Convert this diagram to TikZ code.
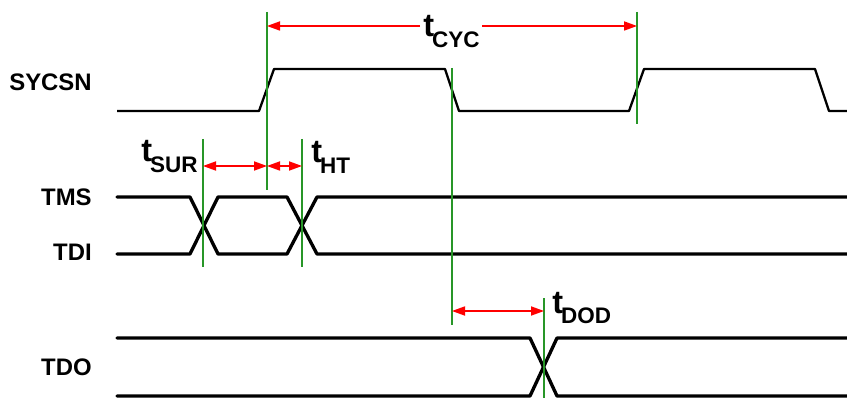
\documentclass[tikz,border=0pt]{standalone}
\usepackage{fontspec}
\setmainfont{Liberation Sans}
\usetikzlibrary{arrows.meta}

\definecolor{markgreen}{RGB}{40,150,40}
\newcommand{\tsub}[1]{{\fontsize{18.5}{19}\selectfont t}\kern-1.2pt\raisebox{-6.2pt}{\fontsize{12.8}{13}\selectfont #1}}

\begin{document}
\begin{tikzpicture}[x=0.02cm, y=-0.02cm,
        signal/.style={line width=1.3pt, line join=round},
        bus/.style={line width=1.9pt, line cap=round, line join=round},
        marker/.style={markgreen, line width=0.75pt},
        dim/.style={red, line width=0.75pt, -{Triangle[length=7.4pt, width=5.2pt]}},
        dimboth/.style={dim, {Triangle[length=7.4pt, width=5.2pt]}-{Triangle[length=7.4pt, width=5.2pt]}},
        lbl/.style={font=\fontsize{13.6}{14}\selectfont\bfseries, anchor=east, inner sep=0pt},
        tlbl/.style={font=\bfseries, anchor=base west, inner sep=0pt}]
        \useasboundingbox (0,0) rectangle (847,398);
        %\draw[gray, dashed] (0,0) grid[step=50] (847,398);

        \node[lbl] (sycsn) at (92,82) {SYCSN};
        \node[lbl] (tms) at (92,197) {TMS};
        \node[lbl] (tdi) at (92,252) {TDI};
        \node[lbl] (tdo) at (92,367) {TDO};

        % waveforms
        \draw[signal] (117,111) -- (259,111) -- (274,69) -- (445,69) -- (459,111) -- (629,111) -- (644,69) -- (815,69) -- (829,111) -- (847,111);

        \draw[bus] (117,197) -- (190,197) -- (218,254) -- (287,254) -- (317,197) -- (847,197);
        \draw[bus] (117,254) -- (190,254) -- (218,197) -- (287,197) -- (317,254) -- (847,254);

        \draw[bus] (117,338) -- (530,338) -- (557,396) -- (847,396);
        \draw[bus] (117,396) -- (530,396) -- (557,338) -- (847,338);

        % markers
        \coordinate (rise1) at (267,12);
        \coordinate (fall1) at (452,68);
        \coordinate (rise2) at (637,12);
        \coordinate (setup) at (203,139);
        \coordinate (hold) at (302,139);
        \coordinate (dout) at (544,298);
        \draw[marker] (rise1) -- ++(0,178);
        \draw[marker] (fall1) -- ++(0,257);
        \draw[marker] (rise2) -- ++(0,112);
        \draw[marker] (setup) -- ++(0,128);
        \draw[marker] (hold) -- ++(0,128);
        \draw[marker] (dout) -- ++(0,100);

        % timing labels
        \node[tlbl] (tcyc) at (423,37) {\tsub{CYC}};
        \node[tlbl] (tsur) at (141,162) {\tsub{SUR}};
        \node[tlbl] (tht) at (311,163) {\tsub{HT}};
        \node[tlbl] (tdod) at (552,313) {\tsub{DOD}};

        \coordinate (cycL) at (420,26);
        \coordinate (cycR) at (482,26);
        \draw[dim] (cycL) -- (rise1 |- cycL);
        \draw[dim] (cycR) -- (rise2 |- cycR);

        \coordinate (su) at (203,166);
        \draw[dimboth] (setup |- su) -- (rise1 |- su);
        \draw[dimboth] (rise1 |- su) -- (hold |- su);

        \coordinate (od) at (452,311);
        \draw[dimboth] (fall1 |- od) -- (dout |- od);
\end{tikzpicture}
\end{document}
